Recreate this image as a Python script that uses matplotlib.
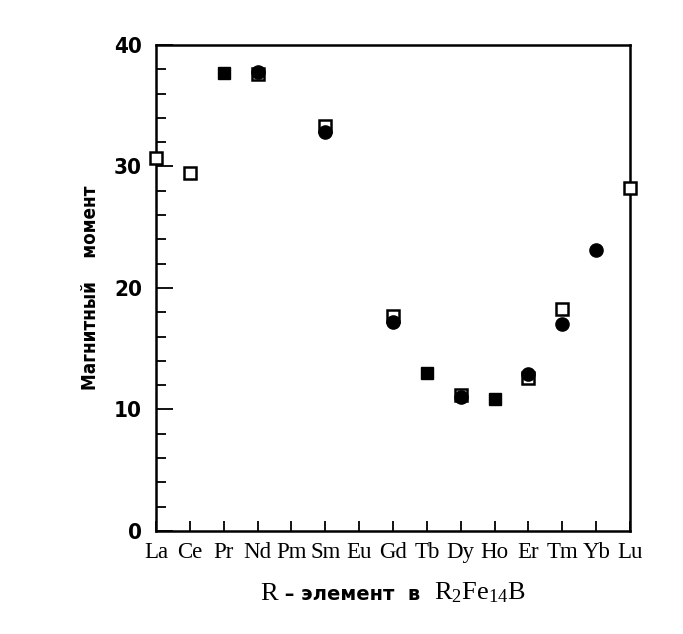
import matplotlib
matplotlib.use("Agg")
import matplotlib.pyplot as plt
from matplotlib.offsetbox import TextArea, HPacker, AnchoredOffsetbox
from matplotlib.ticker import MultipleLocator

elements = ["La", "Ce", "Pr", "Nd", "Pm", "Sm", "Eu", "Gd", "Tb", "Dy", "Ho", "Er", "Tm", "Yb", "Lu"]

# open squares (one data set)
sq_idx = [0, 1, 3, 5, 7, 9, 11, 12, 14]
sq_val = [30.7, 29.5, 37.6, 33.3, 17.7, 11.2, 12.6, 18.3, 28.2]

# filled circles (second data set)
ci_idx = [3, 5, 7, 9, 11, 12, 13]
ci_val = [37.8, 32.8, 17.2, 11.0, 12.9, 17.0, 23.1]

# filled squares (both sets coincide)
fs_idx = [2, 8, 10]
fs_val = [37.7, 13.0, 10.9]

plt.rcParams["mathtext.fontset"] = "custom"
plt.rcParams["mathtext.rm"] = "Liberation Serif"
plt.rcParams["mathtext.it"] = "Liberation Serif"

fig = plt.figure(figsize=(6.83, 6.34), dpi=100)
ax = fig.add_axes([0.2284, 0.1625, 0.694, 0.7666])

ax.plot(sq_idx, sq_val, ls="none", marker="s", ms=9, mfc="white", mec="black",
        mew=1.8, clip_on=False, zorder=3)
ax.plot(ci_idx, ci_val, ls="none", marker="o", ms=9.5, mfc="black", mec="black",
        clip_on=False, zorder=4)
ax.plot(fs_idx, fs_val, ls="none", marker="s", ms=9, mfc="black", mec="black",
        clip_on=False, zorder=4)

ax.set_xlim(0, 14)
ax.set_ylim(0, 40)
ax.set_xticks(range(len(elements)))
ax.set_xticklabels(elements, family="Liberation Serif", fontsize=16.5)
ax.yaxis.set_major_locator(MultipleLocator(10))
ax.yaxis.set_minor_locator(MultipleLocator(2))

for lab in ax.get_yticklabels():
    lab.set_family("DejaVu Sans")
    lab.set_fontweight("bold")
    lab.set_fontstretch("condensed")
    lab.set_fontsize(16)

ax.tick_params(axis="x", direction="in", length=7, width=1.3, pad=8)
ax.tick_params(axis="y", which="major", direction="in", length=12, width=1.3, pad=10)
ax.tick_params(axis="y", which="minor", direction="in", length=7, width=1.3)
for sp in ax.spines.values():
    sp.set_linewidth(1.8)

ax.set_ylabel("Магнитный    момент", family="DejaVu Sans", fontweight="bold",
              fontstretch="condensed", fontsize=13.5, labelpad=10)

# x label built from pieces with different fonts
parts = [
    TextArea("R", textprops=dict(family="Liberation Serif", fontsize=19)),
    TextArea(" – элемент  в  ", textprops=dict(family="DejaVu Sans", fontweight="bold", fontsize=14)),
    TextArea(r"R$_{2}$Fe$_{14}$B", textprops=dict(family="Liberation Serif", fontsize=19)),
]
box = HPacker(children=parts, align="baseline", pad=0, sep=0)
anch = AnchoredOffsetbox(loc="center", child=box, frameon=False,
                         bbox_to_anchor=(0.5, -0.128), bbox_transform=ax.transAxes,
                         borderpad=0)
ax.add_artist(anch)

fig.savefig("out.png", dpi=100)
